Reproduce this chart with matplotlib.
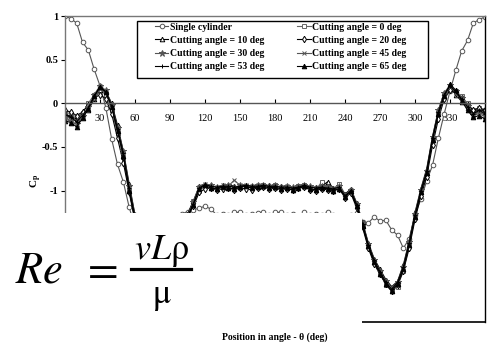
import numpy as np
import matplotlib
matplotlib.use("Agg")
import matplotlib.pyplot as plt
from matplotlib.patches import Rectangle
from matplotlib.lines import Line2D

plt.rcParams['font.family'] = ['Liberation Serif', 'DejaVu Serif']
plt.rcParams['axes.unicode_minus'] = False
plt.rcParams['mathtext.fontset'] = 'stix'

# angle positions, every 5 deg
theta = np.arange(0, 361, 5)

single = [1.00, 0.97, 0.92, 0.70, 0.61, 0.39, 0.20, -0.05, -0.41, -0.70, -0.90, -1.19,
          -1.42, -1.58, -1.62, -1.55, -1.45, -1.38, -1.32, -1.30, -1.27, -1.24, -1.22, -1.20,
          -1.18, -1.21, -1.28, -1.27, -1.28, -1.25, -1.25, -1.28, -1.27, -1.26, -1.25, -1.28,
          -1.25, -1.25, -1.28, -1.27, -1.29, -1.25, -1.28, -1.27, -1.28, -1.25, -1.28, -1.29,
          -1.30, -1.28, -1.26, -1.36, -1.37, -1.30, -1.35, -1.34, -1.45, -1.51, -1.66, -1.55,
          -1.28, -1.10, -0.89, -0.71, -0.40, -0.12, 0.14, 0.38, 0.60, 0.72, 0.92, 0.96,
          0.99]

cut0 = [-0.10, -0.12, -0.16, -0.11, 0.00, 0.10, 0.15, 0.10, -0.08, -0.34, -0.62, -1.00,
        -1.32, -1.65, -1.92, -2.08, -2.12, -2.05, -1.88, -1.60, -1.36, -1.27, -1.12, -1.00,
        -0.95, -0.97, -0.98, -0.96, -0.97, -0.98, -0.95, -0.95, -0.97, -0.95, -0.93, -0.96,
        -0.94, -0.97, -0.97, -0.99, -0.95, -0.94, -0.98, -0.99, -0.90, -0.96, -0.98, -0.92,
        -1.04, -1.00, -1.18, -1.40, -1.63, -1.82, -1.95, -2.08, -2.15, -2.10, -1.92, -1.62,
        -1.30, -1.02, -0.80, -0.42, -0.12, 0.08, 0.18, 0.14, 0.08, 0.00, -0.08, -0.05,
        -0.08]

cut10 = [-0.12, -0.15, -0.18, -0.12, -0.08, 0.05, 0.15, 0.14, 0.00, -0.25, -0.55, -0.92,
         -1.28, -1.60, -1.88, -2.05, -2.12, -2.06, -1.92, -1.65, -1.40, -1.27, -1.12, -0.95,
         -0.92, -0.94, -0.96, -0.94, -0.93, -0.95, -0.96, -0.93, -0.95, -0.94, -0.95, -0.94,
         -0.96, -0.95, -0.95, -0.97, -0.95, -0.95, -0.96, -0.96, -0.95, -0.90, -0.97, -0.96,
         -1.04, -0.98, -1.14, -1.36, -1.60, -1.78, -1.90, -2.02, -2.10, -2.04, -1.85, -1.58,
         -1.25, -0.98, -0.75, -0.38, -0.08, 0.12, 0.18, 0.10, 0.02, -0.05, -0.10, -0.06,
         -0.10]

cut20 = [-0.08, -0.10, -0.14, -0.10, -0.02, 0.06, 0.10, 0.05, -0.12, -0.40, -0.68, -1.02,
         -1.35, -1.66, -1.93, -2.10, -2.14, -2.05, -1.86, -1.58, -1.36, -1.28, -1.18, -1.02,
         -0.98, -0.97, -0.99, -0.98, -0.97, -0.99, -0.97, -0.98, -0.99, -0.97, -0.96, -0.98,
         -0.97, -0.99, -0.98, -0.99, -0.97, -0.96, -0.99, -1.00, -0.98, -0.99, -1.00, -0.98,
         -1.08, -1.03, -1.20, -1.42, -1.66, -1.84, -1.96, -2.07, -2.15, -2.08, -1.92, -1.66,
         -1.33, -1.06, -0.84, -0.48, -0.18, 0.05, 0.15, 0.12, 0.06, -0.02, -0.08, -0.05,
         -0.08]

cut30 = [-0.16, -0.20, -0.24, -0.15, -0.04, 0.10, 0.20, 0.15, -0.02, -0.28, -0.55, -0.95,
         -1.28, -1.60, -1.88, -2.06, -2.13, -2.07, -1.90, -1.63, -1.40, -1.29, -1.13, -0.96,
         -0.93, -0.94, -0.96, -0.95, -0.94, -0.96, -0.94, -0.95, -0.95, -0.94, -0.93, -0.95,
         -0.94, -0.96, -0.95, -0.96, -0.95, -0.93, -0.95, -0.97, -0.95, -0.96, -0.98, -0.95,
         -1.05, -0.99, -1.15, -1.37, -1.61, -1.79, -1.92, -2.04, -2.12, -2.05, -1.87, -1.59,
         -1.27, -0.99, -0.77, -0.39, -0.08, 0.12, 0.21, 0.14, 0.06, -0.03, -0.13, -0.10,
         -0.14]

cut45 = [-0.14, -0.18, -0.20, -0.13, -0.06, 0.06, 0.16, 0.12, -0.04, -0.30, -0.58, -0.97,
         -1.31, -1.63, -1.91, -2.09, -2.16, -2.09, -1.91, -1.62, -1.37, -1.29, -1.14, -0.96,
         -0.92, -0.95, -0.96, -0.94, -0.95, -0.88, -0.94, -0.93, -0.95, -0.94, -0.93, -0.95,
         -0.94, -0.96, -0.95, -0.97, -0.95, -0.94, -0.96, -0.97, -0.95, -0.96, -0.98, -0.96,
         -1.05, -0.99, -1.16, -1.38, -1.62, -1.81, -1.94, -2.06, -2.14, -2.06, -1.89, -1.61,
         -1.28, -1.01, -0.79, -0.41, -0.11, 0.09, 0.19, 0.12, 0.04, -0.05, -0.13, -0.09,
         -0.13]

cut53 = [-0.13, -0.16, -0.21, -0.14, -0.05, 0.08, 0.19, 0.13, -0.03, -0.29, -0.57, -0.97,
         -1.30, -1.62, -1.90, -2.08, -2.15, -2.08, -1.90, -1.62, -1.38, -1.30, -1.15, -0.97,
         -0.93, -0.95, -0.96, -0.95, -0.95, -0.96, -0.95, -0.94, -0.95, -0.95, -0.94, -0.95,
         -0.95, -0.96, -0.96, -0.97, -0.96, -0.94, -0.96, -0.97, -0.96, -0.97, -0.98, -0.96,
         -1.06, -1.00, -1.16, -1.38, -1.62, -1.80, -1.93, -2.05, -2.13, -2.05, -1.88, -1.60,
         -1.28, -1.00, -0.78, -0.40, -0.10, 0.10, 0.20, 0.13, 0.05, -0.04, -0.12, -0.08,
         -0.12]

cut65 = [-0.20, -0.22, -0.27, -0.17, -0.06, 0.08, 0.19, 0.13, -0.04, -0.32, -0.60, -1.00,
         -1.33, -1.64, -1.92, -2.10, -2.17, -2.10, -1.92, -1.64, -1.40, -1.31, -1.16, -0.98,
         -0.94, -0.97, -0.98, -0.96, -0.97, -0.98, -0.96, -0.95, -0.97, -0.96, -0.95, -0.97,
         -0.96, -0.98, -0.97, -0.99, -0.97, -0.95, -0.98, -0.99, -0.97, -0.98, -1.00, -0.98,
         -1.07, -1.01, -1.18, -1.40, -1.64, -1.82, -1.95, -2.07, -2.15, -2.07, -1.90, -1.62,
         -1.30, -1.02, -0.80, -0.42, -0.12, 0.08, 0.22, 0.15, 0.03, -0.08, -0.16, -0.14,
         -0.18]

xticks = list(range(30, 331, 30))
yticks = [1, 0.5, 0, -0.5, -1, -1.5, -2, -2.5]
# the lower labels sit under the white formula box in the original
ytick_labels = ['1', '0.5', '0', '-0.5', '-1', '', '', '']

# label, data, marker, color, filled
series = [
    ("Single cylinder", single, 'o', '#555555', False),
    ("Cutting angle = 0 deg", cut0, 's', '#666666', False),
    ("Cutting angle = 10 deg", cut10, '^', 'black', False),
    ("Cutting angle = 20 deg", cut20, 'd', 'black', False),
    ("Cutting angle = 30 deg", cut30, '*', '#555555', True),
    ("Cutting angle = 45 deg", cut45, 'x', '#555555', False),
    ("Cutting angle = 53 deg", cut53, '+', 'black', False),
    ("Cutting angle = 65 deg", cut65, '^', 'black', True),
]

fig = plt.figure(figsize=(4.88, 3.45), dpi=100)
ax = fig.add_axes([0.1332, 0.068, 0.8607, 0.8855])

lines = {}
for lab, vals, mk, col, filled in series:
    ms = 4.5 if mk == '*' else 3.3
    ln, = ax.plot(theta, vals, marker=mk, color=col, lw=0.8, ms=ms, mew=0.7,
                  mfc=col if filled else 'white', label=lab)
    lines[lab] = ln

ax.set_xlim(0, 360)
ax.set_ylim(-2.5, 1)
ax.set_xticks(xticks)
ax.set_yticks(yticks)
ax.set_yticklabels(ytick_labels)
ax.tick_params(axis='x', direction='in', length=3, pad=8, labelsize=7.5, width=0.8)
ax.tick_params(axis='y', direction='out', length=3, pad=2, labelsize=7.5, width=0.8)
for t in ax.get_xticklabels() + ax.get_yticklabels():
    t.set_fontweight('bold')

ax.spines['bottom'].set_position(('data', 0))
ax.spines['bottom'].set_color('#555555')
ax.spines['left'].set_color('#777777')
ax.spines['top'].set_color('#777777')
ax.spines['right'].set_color('black')
for s in ax.spines.values():
    s.set_linewidth(1.0)
# lower frame edge of the plot area
ax.plot([0, 1], [0, 0], transform=ax.transAxes, color='black', lw=1.2, clip_on=False)

ax.set_ylabel(r'C$_\mathregular{p}$', fontsize=8, fontweight='bold')
ax.yaxis.set_label_coords(-0.05, 0.46)
ax.set_xlabel('Position in angle - θ (deg)', fontsize=7, fontweight='bold')
ax.xaxis.set_label_coords(0.5, -0.035)

# legend box drawn separately so the padding matches
ax.add_patch(Rectangle((0.171, 0.797), 0.693, 0.187, transform=ax.transAxes,
                       facecolor='white', edgecolor='black', lw=1.0, zorder=5))
order = ["Single cylinder", "Cutting angle = 10 deg", "Cutting angle = 30 deg",
         "Cutting angle = 53 deg", "Cutting angle = 0 deg", "Cutting angle = 20 deg",
         "Cutting angle = 45 deg", "Cutting angle = 65 deg"]
leg = ax.legend([lines[k] for k in order], order, ncol=2, loc='upper left',
                bbox_to_anchor=(0.214, 0.978), prop={'size': 7, 'weight': 'bold'},
                frameon=False, handlelength=1.4, handletextpad=0.2, columnspacing=3.3,
                labelspacing=0.42, borderpad=0, borderaxespad=0)
leg.set_zorder(6)

# white box with the Reynolds number formula over the lower left part
fig.add_artist(Rectangle((0, 0.052), 0.742, 0.331, transform=fig.transFigure,
                         facecolor='white', edgecolor='none', zorder=10))
fig.text(0.031, 0.180, r'$Re$', fontsize=32, ha='left', va='baseline', zorder=11)
fig.text(0.203, 0.186, r'$=$', fontsize=32, ha='center', va='baseline', zorder=11)
fig.text(0.330, 0.249, r'$vL\mathrm{\rho}$', fontsize=26, ha='center', va='baseline',
         zorder=11)
fig.text(0.332, 0.122, r'$\mathrm{\mu}$', fontsize=25, ha='center', va='baseline',
         zorder=11)
fig.add_artist(Line2D([0.268, 0.391], [0.220, 0.220], transform=fig.transFigure,
                      color='black', lw=2.3, zorder=11))

fig.savefig('out.png', dpi=100)
